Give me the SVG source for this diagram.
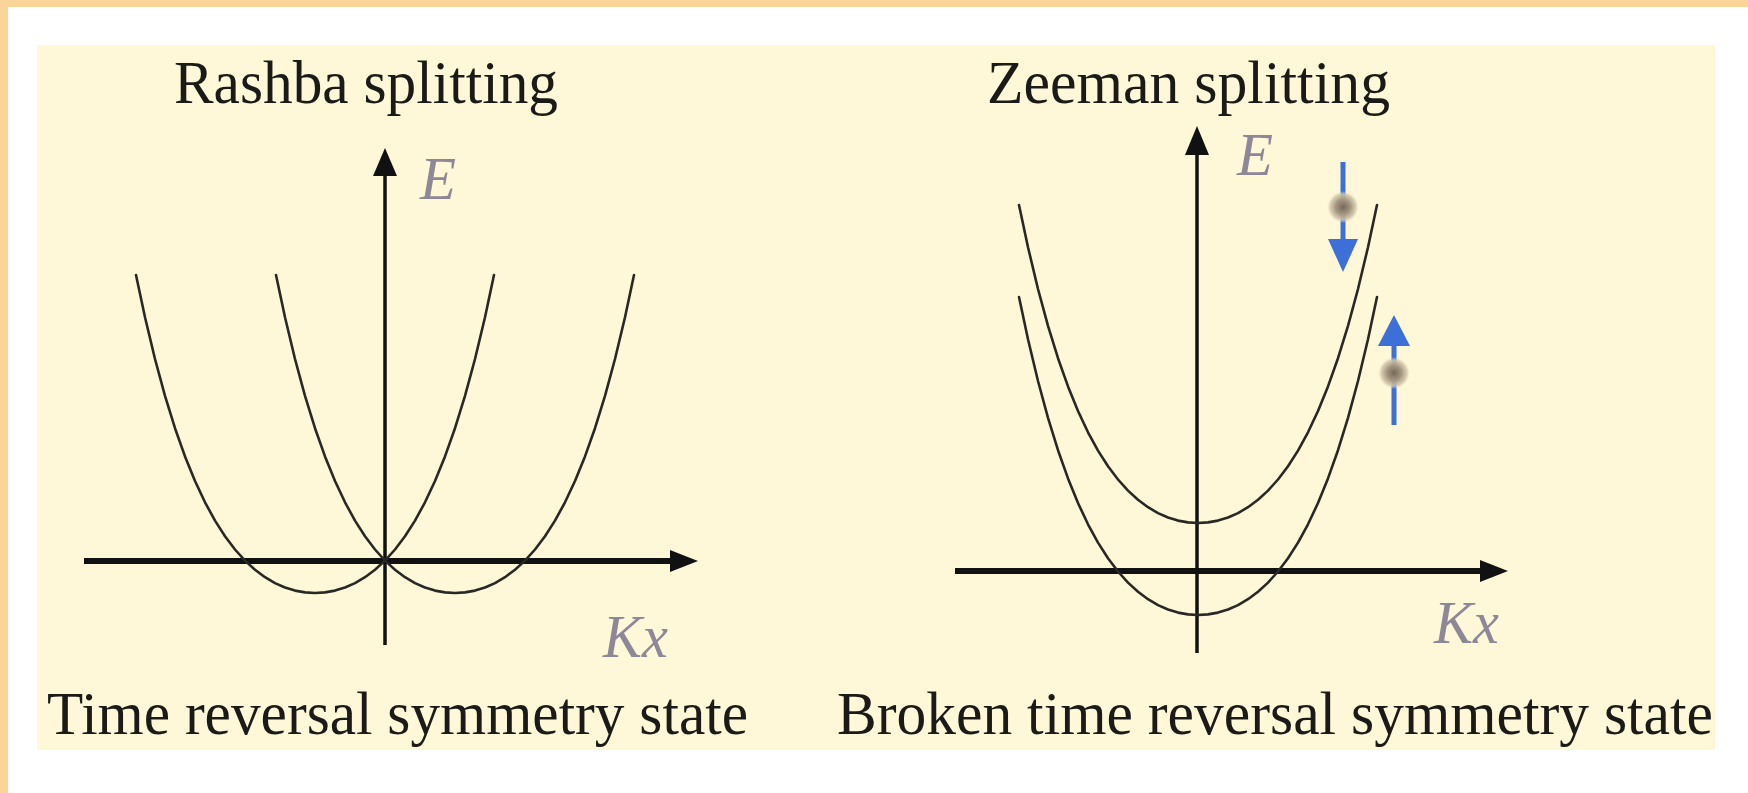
<svg xmlns="http://www.w3.org/2000/svg" xmlns:xlink="http://www.w3.org/1999/xlink" width="1748" height="793" viewBox="0 0 1748 793">
<style>
.title{font-family:"Liberation Serif","Times New Roman",serif;font-size:62px;fill:#1c1a16}
.lbl{font-family:"Liberation Serif","Times New Roman",serif;font-style:italic;font-size:61px;fill:#8e8798}
.axv{stroke:#111;stroke-width:3.5;fill:none}
.axh{stroke:#111;stroke-width:6;fill:none}
.head{fill:#111}
.band{fill:none;stroke:#2a2824;stroke-width:2.6;stroke-linejoin:round;stroke-linecap:round}
.spin{stroke:#3d6fd9;stroke-width:5;fill:none}
.spinhead{fill:#3d6fd9}
</style>
<defs>
<polyline id="parab" points="-179,-317.9 -170,-275.8 -160,-234 -150,-197.2 -140,-164.8 -130,-136.6 -120,-112 -110,-90.7 -100,-72.4 -90,-56.8 -80,-43.5 -70,-32.4 -60,-23.3 -50,-15.8 -40,-9.9 -30,-5.5 -20,-2.4 -10,-0.6 0,0 10,-0.6 20,-2.4 30,-5.5 40,-9.9 50,-15.8 60,-23.3 70,-32.4 80,-43.5 90,-56.8 100,-72.4 110,-90.7 120,-112 130,-136.6 140,-164.8 150,-197.2 160,-234 170,-275.8 179,-317.9"/>
<radialGradient id="ball" cx="0.5" cy="0.5" r="0.5">
<stop offset="0" stop-color="#76695a"/>
<stop offset="0.45" stop-color="#a3957f"/>
<stop offset="0.8" stop-color="#d2c6ad" stop-opacity="0.85"/>
<stop offset="1" stop-color="#ebe2c8" stop-opacity="0"/>
</radialGradient>
</defs>
<rect x="0" y="0" width="1748" height="793" fill="#ffffff"/>
<rect x="0" y="0" width="1748" height="7" fill="#f9d59a"/>
<rect x="0" y="0" width="8" height="793" fill="#f9d59a"/>
<rect id="panel" x="37" y="45" width="1678" height="705" fill="#fef8d8"/>

<g id="rashba">
<text class="title" x="174" y="103" textLength="384" lengthAdjust="spacingAndGlyphs">Rashba splitting</text>
<g id="rashba-axes">
<line class="axv" x1="385" y1="645" x2="385" y2="172"/>
<polygon class="head" points="385,148 373,176 397,176"/>
<line class="axh" x1="84" y1="561" x2="672" y2="561"/>
<polygon class="head" points="698,561 670,550 670,572"/>
</g>
<text class="lbl" x="420" y="199" textLength="36" lengthAdjust="spacingAndGlyphs">E</text>
<text class="lbl" x="603" y="657" textLength="65" lengthAdjust="spacingAndGlyphs">Kx</text>
<g id="rashba-bands">
<use xlink:href="#parab" class="band" transform="translate(315,593)"/>
<use xlink:href="#parab" class="band" transform="translate(455,593)"/>
</g>
<text class="title" x="47" y="734" textLength="701" lengthAdjust="spacingAndGlyphs">Time reversal symmetry state</text>
</g>

<g id="zeeman">
<text class="title" x="987" y="103" textLength="403" lengthAdjust="spacingAndGlyphs">Zeeman splitting</text>
<g id="zeeman-axes">
<line class="axv" x1="1197" y1="653" x2="1197" y2="150"/>
<polygon class="head" points="1197,126 1185,155 1209,155"/>
<line class="axh" x1="955" y1="571" x2="1482" y2="571"/>
<polygon class="head" points="1508,571 1480,560 1480,582"/>
</g>
<text class="lbl" x="1237" y="175" textLength="36" lengthAdjust="spacingAndGlyphs">E</text>
<text class="lbl" x="1434" y="643" textLength="65" lengthAdjust="spacingAndGlyphs">Kx</text>
<g id="zeeman-bands">
<use xlink:href="#parab" class="band" transform="translate(1198,523)"/>
<use xlink:href="#parab" class="band" transform="translate(1198,615)"/>
</g>
<g id="spin-down">
<line class="spin" x1="1343" y1="162" x2="1343" y2="242"/>
<polygon class="spinhead" points="1343,272 1328,239 1358,239"/>
<circle cx="1343" cy="207" r="16" fill="url(#ball)"/>
</g>
<g id="spin-up">
<line class="spin" x1="1394" y1="342" x2="1394" y2="425"/>
<polygon class="spinhead" points="1394,315 1378,346 1410,346"/>
<circle cx="1394" cy="373" r="16" fill="url(#ball)"/>
</g>
<text class="title" x="837" y="734" textLength="876" lengthAdjust="spacingAndGlyphs">Broken time reversal symmetry state</text>
</g>
</svg>
